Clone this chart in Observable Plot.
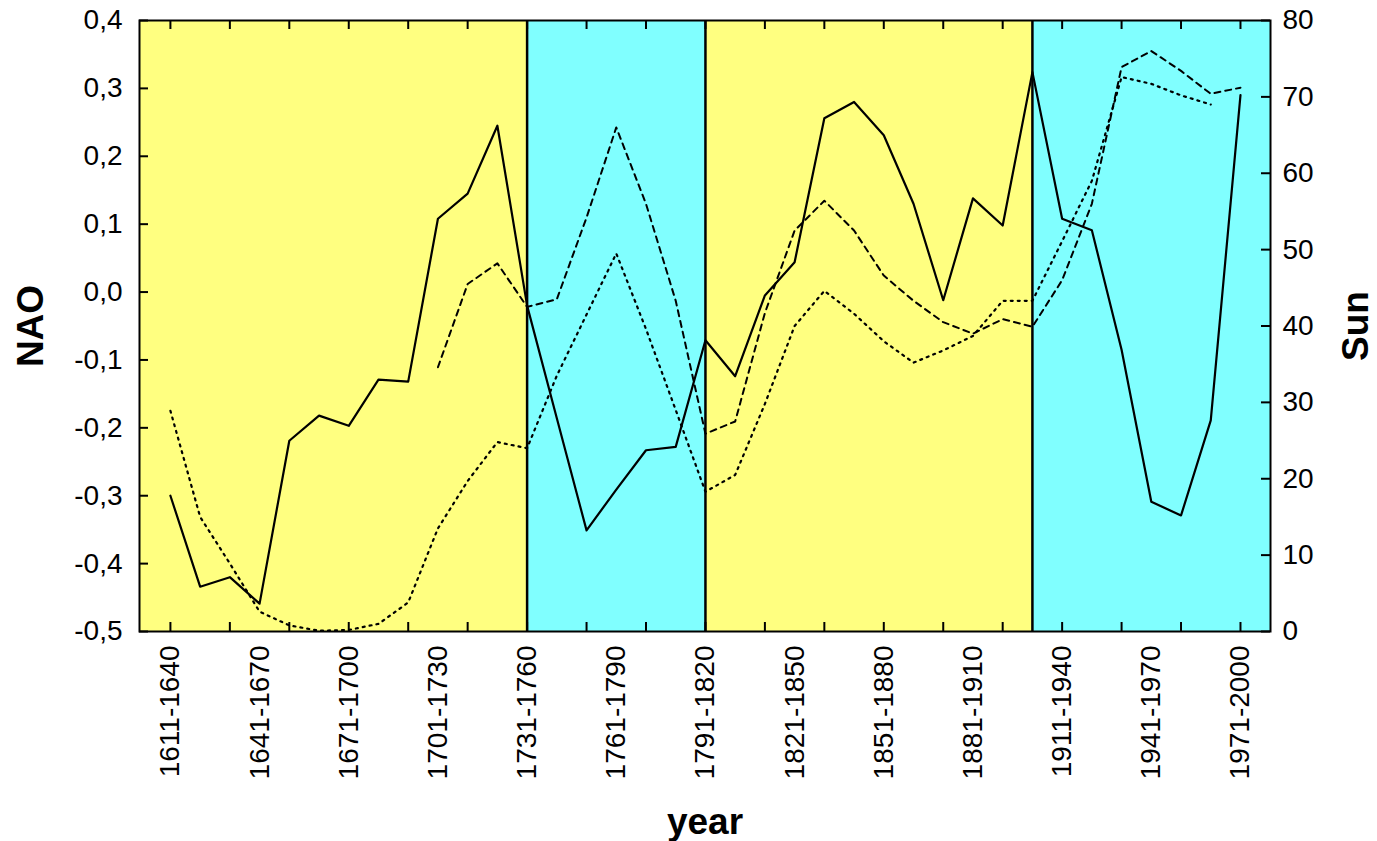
<!DOCTYPE html>
<html>
<head>
<meta charset="utf-8">
<script src="https://cdn.jsdelivr.net/npm/d3@7"></script>
<script src="https://cdn.jsdelivr.net/npm/@observablehq/plot@0.6"></script>
<style>
  html, body { margin: 0; padding: 0; background: #ffffff; }
  #chart svg { display: block; }
</style>
</head>
<body>
<div id="chart"></div>
<script>
// ---- Data ----
const categories = [
  "1611-1640","1621-1650","1631-1660","1641-1670","1651-1680","1661-1690","1671-1700",
  "1681-1710","1691-1720","1701-1730","1711-1740","1721-1750","1731-1760","1741-1770",
  "1751-1780","1761-1790","1771-1800","1781-1810","1791-1820","1801-1830","1811-1840",
  "1821-1850","1831-1860","1841-1870","1851-1880","1861-1890","1871-1900","1881-1910",
  "1891-1920","1901-1930","1911-1940","1921-1950","1931-1960","1941-1970","1951-1980",
  "1961-1990","1971-2000"
];

// NAO (left axis), solid line
const naoSolid = [
  -0.300, -0.434, -0.420, -0.459, -0.219, -0.182, -0.197, -0.129, -0.132, 0.108,
   0.145,  0.245, -0.020, -0.186, -0.351, -0.291, -0.233, -0.228, -0.071, -0.124,
  -0.005,  0.044,  0.256,  0.280,  0.231,  0.130, -0.012,  0.138,  0.098,  0.324,
   0.108,  0.091, -0.085, -0.309, -0.329, -0.189,  0.290
];

// Sun (right axis), dashed line
const sunDashed = [
  null, null, null, null, null, null, null, null, null, 34.6,
  45.5, 48.2, 42.5, 43.5, 54.2, 66.0, 56.0, 43.3, 25.9, 27.5,
  41.7, 52.5, 56.4, 52.5, 46.6, 43.3, 40.5, 39.0, 40.9, 39.9,
  46.0, 56.0, 73.9, 76.0, 73.4, 70.4, 71.2
];

// Sun (right axis), dotted line
const sunDotted = [
  28.9, 15.0,  8.9,  2.6,  0.8,  0.1,  0.2,  1.0,  3.8, 13.5,
  19.7, 24.8, 24.0, 33.5, 41.5, 49.5, 39.6, 29.0, 18.3, 20.5,
  29.8, 40.0, 44.6, 41.6, 38.0, 35.2, 36.8, 38.7, 43.3, 43.3,
  51.1, 59.0, 72.6, 71.7, 70.2, 69.0, null
];

const naoTicks = [-0.5, -0.4, -0.3, -0.2, -0.1, 0.0, 0.1, 0.2, 0.3, 0.4];
const sunTicks = [0, 10, 20, 30, 40, 50, 60, 70, 80];
const xLabelEvery = 3;   // a label on every third period
const xTickEvery = 2;    // a tick on every second period

const periods = [
  {from: null,        to: "1731-1760", color: "#FFFF80"},
  {from: "1731-1760", to: "1791-1820", color: "#80FFFF"},
  {from: "1791-1820", to: "1901-1930", color: "#FFFF80"},
  {from: "1901-1930", to: null,        color: "#80FFFF"}
];
const boundaries = ["1731-1760", "1791-1820", "1901-1930"];

// ---- Build ----
const xDomain = [-1.04, 37.01];
const naoDomain = [-0.5, 0.4];
const sunToNao = d3.scaleLinear([0, 80], naoDomain);

const idx = c => categories.indexOf(c);
const solidRows = naoSolid.map((v, i) => ({i, v}));
const dashedRows = sunDashed.map((s, i) => ({i, v: s == null ? null : sunToNao(s)})).filter(d => d.v != null);
const dottedRows = sunDotted.map((s, i) => ({i, v: s == null ? null : sunToNao(s)})).filter(d => d.v != null);
const labelIdx = categories.map((c, i) => i).filter(i => i % xLabelEvery === 0);
const tickIdx = categories.map((c, i) => i).filter(i => i % xTickEvery === 0);
const periodRows = periods.map(p => ({
  x1: p.from == null ? xDomain[0] : idx(p.from),
  x2: p.to == null ? xDomain[1] : idx(p.to),
  color: p.color
}));

const fmtNao = v => v.toFixed(1).replace(".", ",");
const fmtSun = v => String(Math.round(sunToNao.invert(v)));
const T = 9; // inward tick length (px)
const tk = {stroke: "#000000", strokeWidth: 2};

const chart = Plot.plot({
  width: 1377,
  height: 841,
  marginLeft: 139,
  marginRight: 107,
  marginTop: 20,
  marginBottom: 210,
  x: {type: "linear", domain: xDomain},
  y: {type: "linear", domain: naoDomain},
  style: {fontFamily: "'Liberation Sans', Arial, sans-serif", background: "#ffffff", color: "#000000"},
  marks: [
    ...periodRows.map(p => Plot.rect([p], {x1: "x1", x2: "x2", fill: p.color})),
    Plot.ruleX(boundaries, {x: d => idx(d), stroke: "#000000", strokeWidth: 2.5}),
    Plot.line(dottedRows, {x: "i", y: "v", stroke: "#000000", strokeWidth: 2.2, strokeDasharray: "2,5"}),
    Plot.line(dashedRows, {x: "i", y: "v", stroke: "#000000", strokeWidth: 2, strokeDasharray: "6,5"}),
    Plot.line(solidRows, {x: "i", y: "v", stroke: "#000000", strokeWidth: 2.2}),
    Plot.frame({stroke: "#000000", strokeWidth: 2}),
    // inward tick marks: zero-length rules at the frame edges, extended inward by a negative inset
    Plot.ruleY(naoTicks, {y: d => d, x1: () => xDomain[0], x2: () => xDomain[0], insetRight: -T, ...tk}),
    Plot.ruleY(sunTicks, {y: d => sunToNao(d), x1: () => xDomain[1], x2: () => xDomain[1], insetLeft: -T, ...tk}),
    Plot.ruleX(tickIdx, {x: d => d, y1: () => naoDomain[0], y2: () => naoDomain[0], insetTop: -T, ...tk}),
    Plot.ruleX(tickIdx, {x: d => d, y1: () => naoDomain[1], y2: () => naoDomain[1], insetBottom: -T, ...tk}),
    // tick labels
    Plot.axisY({anchor: "left", ticks: naoTicks, tickSize: 0, tickPadding: 17, tickFormat: fmtNao, fontSize: 28, label: null}),
    Plot.axisY({anchor: "right", ticks: sunTicks.map(s => sunToNao(s)), tickSize: 0, tickPadding: 12, tickFormat: fmtSun, fontSize: 28, label: null}),
    Plot.axisX({anchor: "bottom", ticks: labelIdx, tickSize: 0, tickPadding: 14, tickRotate: -90, tickFormat: i => categories[i], fontSize: 28, label: null}),
    // axis titles
    Plot.text(["NAO"], {text: d => d, frameAnchor: "left", dx: -108, rotate: -90, fontSize: 37, fontWeight: "bold", textAnchor: "middle", lineAnchor: "middle"}),
    Plot.text(["Sun"], {text: d => d, frameAnchor: "right", dx: 86, rotate: -90, fontSize: 37, fontWeight: "bold", textAnchor: "middle", lineAnchor: "middle"}),
    Plot.text(["year"], {text: d => d, frameAnchor: "bottom", dy: 191, fontSize: 37, fontWeight: "bold", textAnchor: "middle", lineAnchor: "middle"})
  ]
});
document.getElementById("chart").appendChild(chart);
</script>
</body>
</html>
